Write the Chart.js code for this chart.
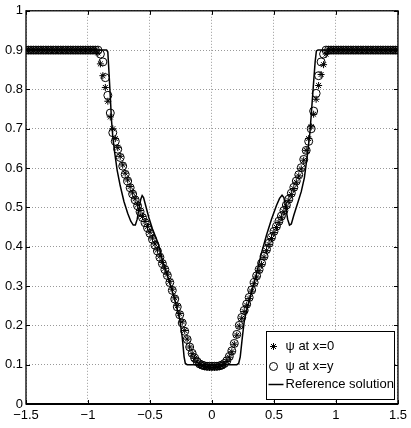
<!DOCTYPE html>
<html>
<head>
<meta charset="utf-8">
<script src="https://cdn.jsdelivr.net/npm/chart.js@4/dist/chart.umd.min.js"></script>
<style>
  html, body { margin: 0; padding: 0; background: #fff; }
  #wrap { width: 411px; height: 428px; }
</style>
</head>
<body>
<div id="wrap"><canvas id="psiChart" width="411" height="428"></canvas></div>
<script>
// grid points shared by both numerical profiles
const xGrid = [
  -1.5, -1.48, -1.46, -1.44, -1.42, -1.4, -1.38, -1.36, -1.34, -1.32,
  -1.3, -1.28, -1.26, -1.24, -1.22, -1.2, -1.18, -1.16, -1.14, -1.12,
  -1.1, -1.08, -1.06, -1.04, -1.02, -1.0, -0.98, -0.96, -0.94, -0.92,
  -0.9, -0.88, -0.86, -0.84, -0.82, -0.8, -0.78, -0.76, -0.74, -0.72,
  -0.7, -0.68, -0.66, -0.64, -0.62, -0.6, -0.58, -0.56, -0.54, -0.52,
  -0.5, -0.48, -0.46, -0.44, -0.42, -0.4, -0.38, -0.36, -0.34, -0.32,
  -0.3, -0.28, -0.26, -0.24, -0.22, -0.2, -0.18, -0.16, -0.14, -0.12,
  -0.1, -0.08, -0.06, -0.04, -0.02, 0.0, 0.02, 0.04, 0.06, 0.08,
  0.1, 0.12, 0.14, 0.16, 0.18, 0.2, 0.22, 0.24, 0.26, 0.28,
  0.3, 0.32, 0.34, 0.36, 0.38, 0.4, 0.42, 0.44, 0.46, 0.48,
  0.5, 0.52, 0.54, 0.56, 0.58, 0.6, 0.62, 0.64, 0.66, 0.68,
  0.7, 0.72, 0.74, 0.76, 0.78, 0.8, 0.82, 0.84, 0.86, 0.88,
  0.9, 0.92, 0.94, 0.96, 0.98, 1.0, 1.02, 1.04, 1.06, 1.08,
  1.1, 1.12, 1.14, 1.16, 1.18, 1.2, 1.22, 1.24, 1.26, 1.28,
  1.3, 1.32, 1.34, 1.36, 1.38, 1.4, 1.42, 1.44, 1.46, 1.48, 1.5
];

// psi at x=0 (asterisks)
const psiX0 = [
  0.9, 0.9, 0.9, 0.9, 0.9, 0.9, 0.9, 0.9, 0.9, 0.9,
  0.9, 0.9, 0.9, 0.9, 0.9, 0.9, 0.9, 0.9, 0.9, 0.9,
  0.9, 0.9, 0.9, 0.9, 0.9, 0.9, 0.9, 0.9, 0.9, 0.893,
  0.865, 0.835, 0.805, 0.77, 0.73, 0.70, 0.675, 0.652, 0.63, 0.608,
  0.587, 0.57, 0.553, 0.537, 0.522, 0.507, 0.492, 0.477, 0.464, 0.451,
  0.437, 0.422, 0.407, 0.392, 0.376, 0.36, 0.345, 0.33, 0.312, 0.292,
  0.27, 0.25, 0.23, 0.209, 0.187, 0.165, 0.145, 0.128, 0.116, 0.106,
  0.10, 0.097, 0.095, 0.094, 0.093, 0.093, 0.093, 0.094, 0.095, 0.097,
  0.101, 0.108, 0.119, 0.133, 0.152, 0.175, 0.198, 0.218, 0.235, 0.251,
  0.268, 0.287, 0.306, 0.323, 0.339, 0.355, 0.373, 0.39, 0.406, 0.421,
  0.436, 0.449, 0.462, 0.475, 0.489, 0.503, 0.518, 0.533, 0.548, 0.564,
  0.58, 0.598, 0.62, 0.645, 0.675, 0.705, 0.737, 0.775, 0.81, 0.838,
  0.863, 0.89, 0.9, 0.9, 0.9, 0.9, 0.9, 0.9, 0.9, 0.9,
  0.9, 0.9, 0.9, 0.9, 0.9, 0.9, 0.9, 0.9, 0.9, 0.9,
  0.9, 0.9, 0.9, 0.9, 0.9, 0.9, 0.9, 0.9, 0.9, 0.9, 0.9
];

// psi at x=y (circles)
const psiXY = [
  0.9, 0.9, 0.9, 0.9, 0.9, 0.9, 0.9, 0.9, 0.9, 0.9,
  0.9, 0.9, 0.9, 0.9, 0.9, 0.9, 0.9, 0.9, 0.9, 0.9,
  0.9, 0.9, 0.9, 0.9, 0.9, 0.9, 0.9, 0.9, 0.9, 0.9,
  0.89, 0.87, 0.83, 0.785, 0.74, 0.69, 0.668, 0.648, 0.627, 0.605,
  0.584, 0.567, 0.55, 0.534, 0.519, 0.504, 0.489, 0.474, 0.461, 0.448,
  0.434, 0.419, 0.404, 0.389, 0.373, 0.357, 0.342, 0.327, 0.309, 0.289,
  0.267, 0.247, 0.227, 0.206, 0.185, 0.164, 0.145, 0.129, 0.117, 0.108,
  0.102, 0.099, 0.097, 0.096, 0.096, 0.096, 0.096, 0.096, 0.097, 0.099,
  0.103, 0.11, 0.121, 0.135, 0.154, 0.177, 0.2, 0.22, 0.238, 0.254,
  0.271, 0.29, 0.309, 0.326, 0.342, 0.358, 0.376, 0.393, 0.409, 0.424,
  0.439, 0.452, 0.465, 0.478, 0.492, 0.506, 0.521, 0.536, 0.551, 0.567,
  0.583, 0.601, 0.622, 0.645, 0.668, 0.70, 0.745, 0.79, 0.835, 0.87,
  0.89, 0.9, 0.9, 0.9, 0.9, 0.9, 0.9, 0.9, 0.9, 0.9,
  0.9, 0.9, 0.9, 0.9, 0.9, 0.9, 0.9, 0.9, 0.9, 0.9,
  0.9, 0.9, 0.9, 0.9, 0.9, 0.9, 0.9, 0.9, 0.9, 0.9, 0.9
];

// reference solution (solid line)
const refX = [
  -1.5, -0.85, -0.84, -0.83, -0.82, -0.81, -0.80, -0.785, -0.765, -0.74, -0.71, -0.68,
  -0.655, -0.635, -0.618, -0.603, -0.59, -0.575, -0.563, -0.552, -0.535, -0.51, -0.48, -0.455,
  -0.43, -0.40, -0.35, -0.30, -0.26, -0.24, -0.225, -0.215, -0.20,
  0.20, 0.215, 0.228, 0.245, 0.262, 0.30, 0.35, 0.40, 0.44, 0.48, 0.52,
  0.545, 0.565, 0.58, 0.595, 0.61, 0.625, 0.64, 0.66, 0.69, 0.72, 0.745, 0.77,
  0.79, 0.805, 0.82, 0.832, 0.842, 0.855, 1.5
];
const refY = [
  0.9, 0.9, 0.895, 0.84, 0.78, 0.72, 0.68, 0.64, 0.595, 0.555, 0.515, 0.485,
  0.465, 0.455, 0.455, 0.47, 0.495, 0.52, 0.53, 0.525, 0.505, 0.475, 0.445, 0.425,
  0.405, 0.365, 0.318, 0.265, 0.215, 0.17, 0.12, 0.103, 0.1,
  0.1, 0.103, 0.12, 0.17, 0.215, 0.262, 0.32, 0.385, 0.43, 0.47, 0.505,
  0.523, 0.531, 0.525, 0.5, 0.47, 0.455, 0.458, 0.48, 0.51, 0.54, 0.575, 0.635,
  0.69, 0.755, 0.82, 0.87, 0.898, 0.9, 0.9
];

const legendLabels = ['\u03c8 at x=0', '\u03c8 at x=y', 'Reference solution'];

const FONT = '"Liberation Sans", Arial, Helvetica, sans-serif';

function toPoints(xs, ys) {
  return xs.map((x, i) => ({ x: x, y: ys[i] }));
}

// tick labels like matlab: 0, 0.1, ..., 1 and a real minus sign
function fmtTick(v) {
  return String(Math.round(v * 10) / 10).replace('-', '\u2212');
}

// box, inward ticks and the legend drawn MATLAB style
const matlabFrame = {
  id: 'matlabFrame',
  afterDatasetsDraw(chart) {
    const ctx = chart.ctx;
    const ca = chart.chartArea;
    const xs = chart.scales.x;
    const ys = chart.scales.y;
    ctx.save();
    ctx.strokeStyle = '#000';
    ctx.lineWidth = 1;
    ctx.beginPath();
    xs.ticks.forEach(t => {
      const px = Math.round(xs.getPixelForValue(t.value)) + 0.5;
      ctx.moveTo(px, ca.bottom); ctx.lineTo(px, ca.bottom - 4);
      ctx.moveTo(px, ca.top); ctx.lineTo(px, ca.top + 4);
    });
    ys.ticks.forEach(t => {
      const py = Math.round(ys.getPixelForValue(t.value)) + 0.5;
      ctx.moveTo(ca.left, py); ctx.lineTo(ca.left + 4, py);
      ctx.moveTo(ca.right, py); ctx.lineTo(ca.right - 4, py);
    });
    ctx.stroke();

    ctx.lineWidth = 1.3;
    ctx.strokeRect(ca.left, ca.top, ca.right - ca.left, ca.bottom - ca.top);
    ctx.lineWidth = 2;
    ctx.beginPath();
    ctx.moveTo(ca.left, ca.bottom); ctx.lineTo(ca.right, ca.bottom);
    ctx.stroke();

    // legend
    const w = 128, h = 68;
    const bx = Math.round(ca.right - 4 - w) + 0.5;
    const by = Math.round(ca.bottom - 5 - h) + 0.5;
    ctx.fillStyle = '#fff';
    ctx.fillRect(bx, by, w, h);
    ctx.lineWidth = 1;
    ctx.strokeRect(bx, by, w, h);

    const rows = [by + 15, by + 35, by + 53];
    ctx.fillStyle = '#000';
    ctx.font = '13px ' + FONT;
    ctx.textBaseline = 'middle';
    ctx.textAlign = 'left';
    legendLabels.forEach((txt, i) => ctx.fillText(txt, bx + 19, rows[i]));

    const mx = bx + 7;
    ctx.lineWidth = 1;
    Chart.helpers.drawPoint(ctx, { pointStyle: 'star', radius: 3.5, rotation: 0, borderWidth: 1 }, mx, rows[0]);
    ctx.beginPath();
    ctx.arc(mx, rows[1], 4, 0, Math.PI * 2);
    ctx.stroke();
    ctx.lineWidth = 1.5;
    ctx.beginPath();
    ctx.moveTo(bx + 2, rows[2]); ctx.lineTo(bx + 17, rows[2]);
    ctx.stroke();
    ctx.restore();
  }
};

const ctx = document.getElementById('psiChart').getContext('2d');
new Chart(ctx, {
  type: 'scatter',
  data: {
    datasets: [
      {
        label: legendLabels[2],
        data: toPoints(refX, refY),
        showLine: true,
        borderColor: '#000',
        borderWidth: 1.5,
        pointRadius: 0,
        tension: 0,
        order: 0,
      },
      {
        label: legendLabels[0],
        data: toPoints(xGrid, psiX0),
        pointStyle: 'star',
        pointRadius: 3.5,
        borderColor: '#000',
        backgroundColor: '#000',
        pointBorderWidth: 1,
        order: 2,
      },
      {
        label: legendLabels[1],
        data: toPoints(xGrid, psiXY),
        pointStyle: 'circle',
        pointRadius: 4,
        borderColor: '#000',
        backgroundColor: 'rgba(0,0,0,0)',
        pointBorderWidth: 1,
        order: 1,
      },
    ],
  },
  options: {
    responsive: false,
    animation: false,
    events: [],
    layout: { padding: { top: 10, right: 9, left: 0, bottom: 0 } },
    plugins: { legend: { display: false }, tooltip: { enabled: false } },
    scales: {
      x: {
        type: 'linear',
        min: -1.5,
        max: 1.5,
        afterFit: s => { s.height = 24; },
        grid: { color: 'rgba(0,0,0,0.4)', drawTicks: false, lineWidth: 1 },
        border: { display: false, dash: [1, 2] },
        ticks: {
          stepSize: 0.5,
          padding: 4,
          color: '#000',
          font: { family: FONT, size: 13 },
          maxRotation: 0,
          callback: fmtTick,
        },
      },
      y: {
        min: 0,
        max: 1,
        afterFit: s => { s.width = 26; },
        grid: { color: 'rgba(0,0,0,0.4)', drawTicks: false, lineWidth: 1 },
        border: { display: false, dash: [1, 2] },
        ticks: {
          stepSize: 0.1,
          padding: 3,
          color: '#000',
          font: { family: FONT, size: 13 },
          callback: fmtTick,
        },
      },
    },
  },
  plugins: [matlabFrame],
});
</script>
</body>
</html>
